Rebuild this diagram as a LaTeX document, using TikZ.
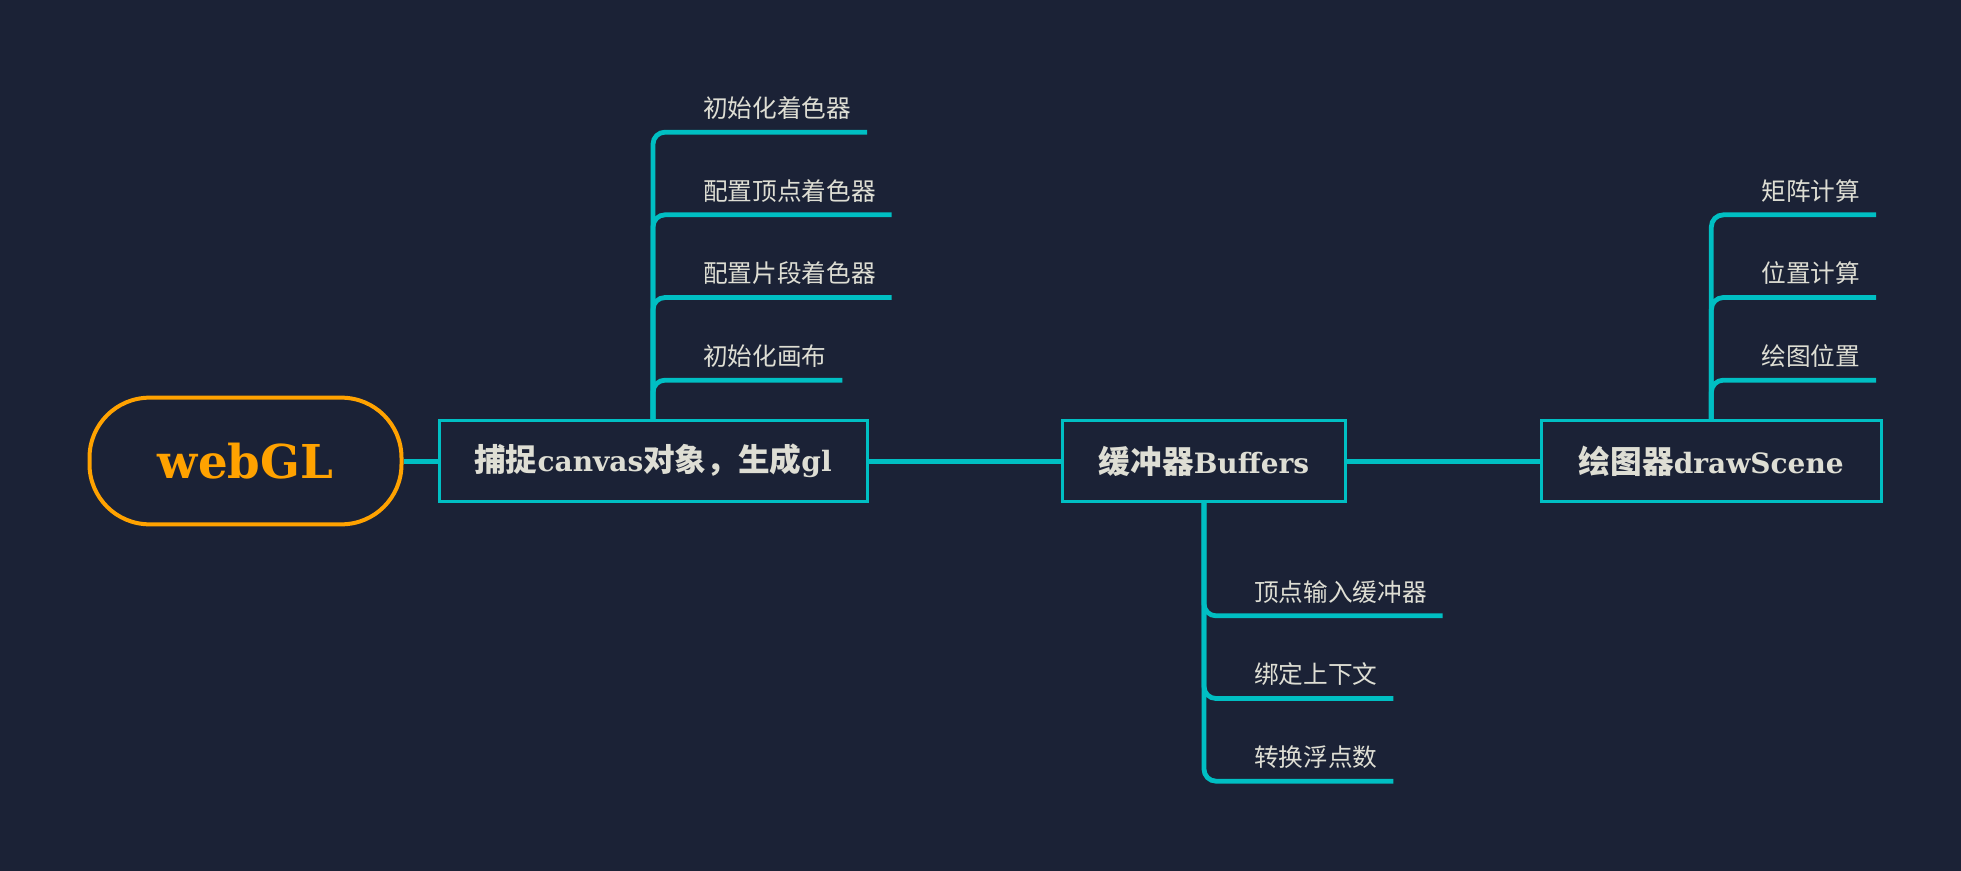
\documentclass[tikz,border=0pt]{standalone}
\usepackage{fontspec}
\setmainfont{DejaVu Serif}
\newfontfamily\cjk{Noto Sans CJK SC}
\newfontfamily\cjkb{Noto Sans CJK SC}[Scale=1.13]
\usetikzlibrary{positioning}

\definecolor{bg}{HTML}{1B2236}
\definecolor{mapline}{HTML}{00BFC3}
\definecolor{rootcol}{HTML}{FFA200}
\definecolor{lbl}{HTML}{DEDED4}

\tikzset{
  root/.style={draw=rootcol, line width=3pt, rounded corners=45pt, minimum width=234pt, minimum height=95pt, text=rootcol, font=\bfseries\fontsize{35}{40}\selectfont},
  topic/.style={draw=mapline, line width=2.25pt, minimum height=61pt, inner xsep=0pt, text=lbl, font=\bfseries\fontsize{21}{24}\selectfont},
  leaf/.style={text=lbl, font=\cjk\fontsize{18.5}{20}\selectfont, inner xsep=12pt, inner ysep=9pt, outer sep=0pt, text height=16pt, text depth=2pt},
  link/.style={draw=mapline, line width=3.75pt},
  branch/.style={draw=mapline, line width=3.6pt, rounded corners=9pt}
}

\begin{document}
\begin{tikzpicture}[x=0.75pt, y=-0.75pt]
\fill[bg] (0,0) rectangle (1961,871);
\useasboundingbox (0,0) rectangle (1961,871);

% main line
\node[root] (webgl) at (245.5,461) {webGL};
\node[topic, minimum width=321pt, right=25.5pt of webgl] (canvas) {{\cjkb 捕捉}canvas{\cjkb 对象，生成}gl};
\node[topic, minimum width=212pt, right=144.5pt of canvas] (buffers) {{\cjkb 缓冲器}Buffers};
\node[topic, minimum width=255.5pt, right=144.5pt of buffers] (scene) {{\cjkb 绘图器}drawScene};

% canvas leaves
\node[leaf, above right=29pt and 25.5pt of canvas.north] (cv4) {初始化画布};
\node[leaf, above right=62pt and 0pt of cv4.south west] (cv3) {配置片段着色器};
\node[leaf, above right=62pt and 0pt of cv3.south west] (cv2) {配置顶点着色器};
\node[leaf, above right=62pt and 0pt of cv2.south west] (cv1) {初始化着色器};

% buffer leaves
\node[leaf, below right=48.5pt and 25.5pt of buffers.south] (bf1) {顶点输入缓冲器};
\node[leaf, below right=26pt and 0pt of bf1.south west] (bf2) {绑定上下文};
\node[leaf, below right=26pt and 0pt of bf2.south west] (bf3) {转换浮点数};

% scene leaves
\node[leaf, above right=29pt and 25.5pt of scene.north] (sc3) {绘图位置};
\node[leaf, above right=62pt and 0pt of sc3.south west] (sc2) {位置计算};
\node[leaf, above right=62pt and 0pt of sc2.south west] (sc1) {矩阵计算};

\draw[link] (webgl) -- (canvas);
\draw[link] (canvas) -- (buffers);
\draw[link] (buffers) -- (scene);

\foreach \c in {cv1,cv2,cv3,cv4}
  \draw[branch] (canvas.north) |- (\c.south east);
\foreach \c in {bf1,bf2,bf3}
  \draw[branch] (buffers.south) |- (\c.south east);
\foreach \c in {sc1,sc2,sc3}
  \draw[branch] (scene.north) |- (\c.south east);
\end{tikzpicture}
\end{document}
